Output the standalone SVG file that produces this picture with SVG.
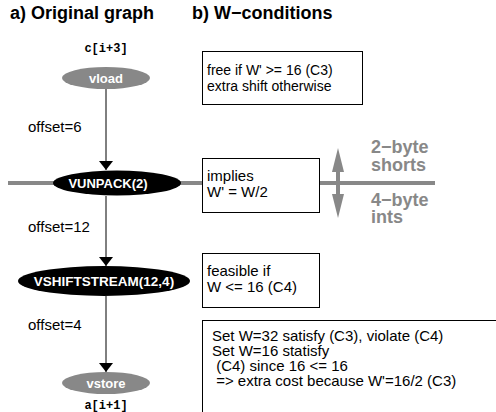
<svg xmlns="http://www.w3.org/2000/svg" width="496" height="412" viewBox="0 0 496 412">
  <style>
    .title { font: bold 18px "Liberation Sans", Arial, sans-serif; fill: #000; }
    .lbl { font: 15px "Liberation Sans", Arial, sans-serif; fill: #000; }
    .mono { font: bold 12px "Liberation Mono", "Courier New", monospace; fill: #000; text-anchor: middle; }
    .op { font: bold 13px "Liberation Sans", Arial, sans-serif; fill: #fff; text-anchor: middle; }
    .width { font: bold 18px "Liberation Sans", Arial, sans-serif; fill: #888; }
    .box { fill: #fff; stroke: #000; stroke-width: 1; }
    .edge { stroke: #000; stroke-width: 1; fill: none; marker-end: url(#arrow); }
    .gray { fill: #888; }
    .black { fill: #000; }
  </style>
  <defs>
    <marker id="arrow" markerWidth="9" markerHeight="14" refX="9" refY="7" orient="auto" markerUnits="userSpaceOnUse" viewBox="0 0 9 14">
      <path d="M0,0 L9,7 L0,14 Z" fill="#000"/>
    </marker>
  </defs>

  <!-- headings -->
  <text class="title" x="10" y="19">a) Original graph</text>
  <text class="title" x="192" y="19">b) W−conditions</text>

  <!-- data-width boundary: shorts above, ints below -->
  <g id="width-boundary">
    <line x1="8" y1="183" x2="435" y2="183" stroke="#888" stroke-width="4"/>
    <line x1="338" y1="168" x2="338" y2="198" stroke="#888" stroke-width="4"/>
    <polygon class="gray" points="338,148 332,172 344,172"/>
    <polygon class="gray" points="338,218 332,194 344,194"/>
    <text class="width" x="371" y="153">2−byte<tspan x="371" y="171">shorts</tspan></text>
    <text class="width" x="371" y="206">4−byte<tspan x="371" y="223">ints</tspan></text>
  </g>

  <!-- connectors -->
  <g id="edges">
    <line class="edge" x1="106" y1="89" x2="106" y2="170"/>
    <line class="edge" x1="106" y1="196" x2="106" y2="266"/>
    <line class="edge" x1="106" y1="296" x2="106" y2="372"/>
    <text class="lbl" x="28" y="132">offset=6</text>
    <text class="lbl" x="28" y="232">offset=12</text>
    <text class="lbl" x="28" y="330">offset=4</text>
  </g>

  <!-- graph nodes -->
  <g id="vload">
    <text class="mono" x="106" y="52">c[i+3]</text>
    <ellipse class="gray" cx="106" cy="78" rx="44" ry="11"/>
    <text class="op" x="106" y="83">vload</text>
  </g>
  <g id="vunpack">
    <ellipse class="black" cx="117" cy="183" rx="64" ry="12.5"/>
    <text class="op" x="108" y="188">VUNPACK(2)</text>
  </g>
  <g id="vshiftstream">
    <ellipse class="black" cx="104" cy="281" rx="86" ry="15"/>
    <text class="op" x="104" y="286" style="font-size:13.5px">VSHIFTSTREAM(12,4)</text>
  </g>
  <g id="vstore">
    <ellipse class="gray" cx="106" cy="383" rx="44" ry="11"/>
    <text class="op" x="106" y="388">vstore</text>
    <text class="mono" x="106" y="409">a[i+1]</text>
  </g>

  <!-- condition notes -->
  <g id="note-vload">
    <rect class="box" x="202.5" y="51.5" width="160" height="53"/>
    <text class="lbl" x="207" y="75" style="font-size:14px">free if W' &gt;= 16 (C3)<tspan x="207" y="91">extra shift otherwise</tspan></text>
  </g>
  <g id="note-vunpack">
    <rect class="box" x="202.5" y="158.5" width="117" height="54"/>
    <text class="lbl" x="207" y="181">implies<tspan x="207" y="197">W' = W/2</tspan></text>
  </g>
  <g id="note-vshiftstream">
    <rect class="box" x="202.5" y="253.5" width="117" height="54"/>
    <text class="lbl" x="207" y="276">feasible if<tspan x="207" y="292">W &lt;= 16 (C4)</tspan></text>
  </g>
  <g id="note-summary">
    <rect class="box" x="202.5" y="320.5" width="300" height="100"/>
    <text class="lbl" x="212" y="341" xml:space="preserve">Set W=32 satisfy (C3), violate (C4)<tspan x="212" y="356">Set W=16 statisfy</tspan><tspan x="212" y="371"> (C4) since 16 &lt;= 16</tspan><tspan x="212" y="386"> =&gt; extra cost because W'=16/2 (C3)</tspan></text>
  </g>
</svg>
